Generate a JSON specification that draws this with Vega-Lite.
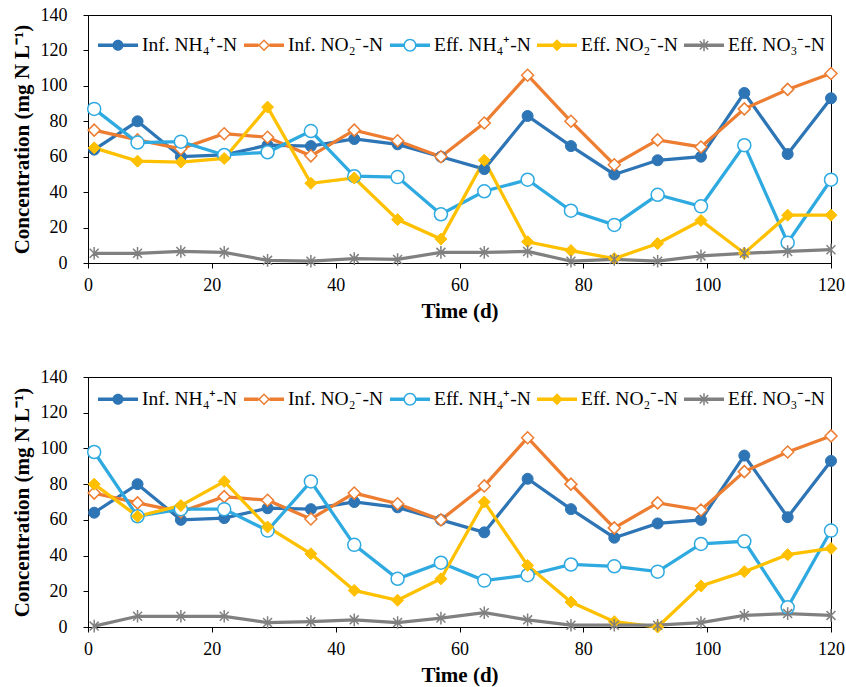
{
  "$schema": "https://vega.github.io/schema/vega-lite/v6.json",
  "padding": {"left": 10, "top": 5, "right": 10, "bottom": 5},
  "background": "white",
  "datasets": {
    "pts": [
      {"p":"A","s":"Inf. NH₄⁺-N","d":1,"v":64},{"p":"A","s":"Inf. NH₄⁺-N","d":8,"v":80},{"p":"A","s":"Inf. NH₄⁺-N","d":15,"v":60},{"p":"A","s":"Inf. NH₄⁺-N","d":22,"v":61},{"p":"A","s":"Inf. NH₄⁺-N","d":29,"v":66.5},{"p":"A","s":"Inf. NH₄⁺-N","d":36,"v":66},{"p":"A","s":"Inf. NH₄⁺-N","d":43,"v":70},{"p":"A","s":"Inf. NH₄⁺-N","d":50,"v":67},{"p":"A","s":"Inf. NH₄⁺-N","d":57,"v":60},{"p":"A","s":"Inf. NH₄⁺-N","d":64,"v":53},{"p":"A","s":"Inf. NH₄⁺-N","d":71,"v":83},{"p":"A","s":"Inf. NH₄⁺-N","d":78,"v":66},{"p":"A","s":"Inf. NH₄⁺-N","d":85,"v":50},{"p":"A","s":"Inf. NH₄⁺-N","d":92,"v":58},{"p":"A","s":"Inf. NH₄⁺-N","d":99,"v":60},{"p":"A","s":"Inf. NH₄⁺-N","d":106,"v":96},{"p":"A","s":"Inf. NH₄⁺-N","d":113,"v":61.5},{"p":"A","s":"Inf. NH₄⁺-N","d":120,"v":93},
      {"p":"A","s":"Inf. NO₂⁻-N","d":1,"v":75},{"p":"A","s":"Inf. NO₂⁻-N","d":8,"v":69.5},{"p":"A","s":"Inf. NO₂⁻-N","d":15,"v":64.5},{"p":"A","s":"Inf. NO₂⁻-N","d":22,"v":73},{"p":"A","s":"Inf. NO₂⁻-N","d":29,"v":71},{"p":"A","s":"Inf. NO₂⁻-N","d":36,"v":60.5},{"p":"A","s":"Inf. NO₂⁻-N","d":43,"v":75},{"p":"A","s":"Inf. NO₂⁻-N","d":50,"v":69},{"p":"A","s":"Inf. NO₂⁻-N","d":57,"v":60},{"p":"A","s":"Inf. NO₂⁻-N","d":64,"v":79},{"p":"A","s":"Inf. NO₂⁻-N","d":71,"v":106},{"p":"A","s":"Inf. NO₂⁻-N","d":78,"v":80},{"p":"A","s":"Inf. NO₂⁻-N","d":85,"v":55.5},{"p":"A","s":"Inf. NO₂⁻-N","d":92,"v":69.5},{"p":"A","s":"Inf. NO₂⁻-N","d":99,"v":65.5},{"p":"A","s":"Inf. NO₂⁻-N","d":106,"v":87},{"p":"A","s":"Inf. NO₂⁻-N","d":113,"v":98},{"p":"A","s":"Inf. NO₂⁻-N","d":120,"v":107},
      {"p":"A","s":"Eff. NH₄⁺-N","d":1,"v":87},{"p":"A","s":"Eff. NH₄⁺-N","d":8,"v":68},{"p":"A","s":"Eff. NH₄⁺-N","d":15,"v":68.5},{"p":"A","s":"Eff. NH₄⁺-N","d":22,"v":61},{"p":"A","s":"Eff. NH₄⁺-N","d":29,"v":62.5},{"p":"A","s":"Eff. NH₄⁺-N","d":36,"v":74.5},{"p":"A","s":"Eff. NH₄⁺-N","d":43,"v":49},{"p":"A","s":"Eff. NH₄⁺-N","d":50,"v":48.5},{"p":"A","s":"Eff. NH₄⁺-N","d":57,"v":27.5},{"p":"A","s":"Eff. NH₄⁺-N","d":64,"v":40.5},{"p":"A","s":"Eff. NH₄⁺-N","d":71,"v":47},{"p":"A","s":"Eff. NH₄⁺-N","d":78,"v":29.5},{"p":"A","s":"Eff. NH₄⁺-N","d":85,"v":21.5},{"p":"A","s":"Eff. NH₄⁺-N","d":92,"v":38.5},{"p":"A","s":"Eff. NH₄⁺-N","d":99,"v":32},{"p":"A","s":"Eff. NH₄⁺-N","d":106,"v":66.5},{"p":"A","s":"Eff. NH₄⁺-N","d":113,"v":11.5},{"p":"A","s":"Eff. NH₄⁺-N","d":120,"v":47},
      {"p":"A","s":"Eff. NO₂⁻-N","d":1,"v":65},{"p":"A","s":"Eff. NO₂⁻-N","d":8,"v":57.5},{"p":"A","s":"Eff. NO₂⁻-N","d":15,"v":57},{"p":"A","s":"Eff. NO₂⁻-N","d":22,"v":59},{"p":"A","s":"Eff. NO₂⁻-N","d":29,"v":88},{"p":"A","s":"Eff. NO₂⁻-N","d":36,"v":45},{"p":"A","s":"Eff. NO₂⁻-N","d":43,"v":48},{"p":"A","s":"Eff. NO₂⁻-N","d":50,"v":24.5},{"p":"A","s":"Eff. NO₂⁻-N","d":57,"v":13.5},{"p":"A","s":"Eff. NO₂⁻-N","d":64,"v":58},{"p":"A","s":"Eff. NO₂⁻-N","d":71,"v":12},{"p":"A","s":"Eff. NO₂⁻-N","d":78,"v":7},{"p":"A","s":"Eff. NO₂⁻-N","d":85,"v":2.5},{"p":"A","s":"Eff. NO₂⁻-N","d":92,"v":11},{"p":"A","s":"Eff. NO₂⁻-N","d":99,"v":24},{"p":"A","s":"Eff. NO₂⁻-N","d":106,"v":5.5},{"p":"A","s":"Eff. NO₂⁻-N","d":113,"v":27},{"p":"A","s":"Eff. NO₂⁻-N","d":120,"v":27},
      {"p":"A","s":"Eff. NO₃⁻-N","d":1,"v":5.5},{"p":"A","s":"Eff. NO₃⁻-N","d":8,"v":5.5},{"p":"A","s":"Eff. NO₃⁻-N","d":15,"v":6.5},{"p":"A","s":"Eff. NO₃⁻-N","d":22,"v":6},{"p":"A","s":"Eff. NO₃⁻-N","d":29,"v":1.5},{"p":"A","s":"Eff. NO₃⁻-N","d":36,"v":1},{"p":"A","s":"Eff. NO₃⁻-N","d":43,"v":2.5},{"p":"A","s":"Eff. NO₃⁻-N","d":50,"v":2},{"p":"A","s":"Eff. NO₃⁻-N","d":57,"v":6},{"p":"A","s":"Eff. NO₃⁻-N","d":64,"v":6},{"p":"A","s":"Eff. NO₃⁻-N","d":71,"v":6.5},{"p":"A","s":"Eff. NO₃⁻-N","d":78,"v":1},{"p":"A","s":"Eff. NO₃⁻-N","d":85,"v":2},{"p":"A","s":"Eff. NO₃⁻-N","d":92,"v":1},{"p":"A","s":"Eff. NO₃⁻-N","d":99,"v":4},{"p":"A","s":"Eff. NO₃⁻-N","d":106,"v":5.5},{"p":"A","s":"Eff. NO₃⁻-N","d":113,"v":6.5},{"p":"A","s":"Eff. NO₃⁻-N","d":120,"v":7.5},
      {"p":"B","s":"Inf. NH₄⁺-N","d":1,"v":64},{"p":"B","s":"Inf. NH₄⁺-N","d":8,"v":80},{"p":"B","s":"Inf. NH₄⁺-N","d":15,"v":60},{"p":"B","s":"Inf. NH₄⁺-N","d":22,"v":61},{"p":"B","s":"Inf. NH₄⁺-N","d":29,"v":66.5},{"p":"B","s":"Inf. NH₄⁺-N","d":36,"v":66},{"p":"B","s":"Inf. NH₄⁺-N","d":43,"v":70},{"p":"B","s":"Inf. NH₄⁺-N","d":50,"v":67},{"p":"B","s":"Inf. NH₄⁺-N","d":57,"v":60},{"p":"B","s":"Inf. NH₄⁺-N","d":64,"v":53},{"p":"B","s":"Inf. NH₄⁺-N","d":71,"v":83},{"p":"B","s":"Inf. NH₄⁺-N","d":78,"v":66},{"p":"B","s":"Inf. NH₄⁺-N","d":85,"v":50},{"p":"B","s":"Inf. NH₄⁺-N","d":92,"v":58},{"p":"B","s":"Inf. NH₄⁺-N","d":99,"v":60},{"p":"B","s":"Inf. NH₄⁺-N","d":106,"v":96},{"p":"B","s":"Inf. NH₄⁺-N","d":113,"v":61.5},{"p":"B","s":"Inf. NH₄⁺-N","d":120,"v":93},
      {"p":"B","s":"Inf. NO₂⁻-N","d":1,"v":75},{"p":"B","s":"Inf. NO₂⁻-N","d":8,"v":69.5},{"p":"B","s":"Inf. NO₂⁻-N","d":15,"v":64.5},{"p":"B","s":"Inf. NO₂⁻-N","d":22,"v":73},{"p":"B","s":"Inf. NO₂⁻-N","d":29,"v":71},{"p":"B","s":"Inf. NO₂⁻-N","d":36,"v":60.5},{"p":"B","s":"Inf. NO₂⁻-N","d":43,"v":75},{"p":"B","s":"Inf. NO₂⁻-N","d":50,"v":69},{"p":"B","s":"Inf. NO₂⁻-N","d":57,"v":60},{"p":"B","s":"Inf. NO₂⁻-N","d":64,"v":79},{"p":"B","s":"Inf. NO₂⁻-N","d":71,"v":106},{"p":"B","s":"Inf. NO₂⁻-N","d":78,"v":80},{"p":"B","s":"Inf. NO₂⁻-N","d":85,"v":55.5},{"p":"B","s":"Inf. NO₂⁻-N","d":92,"v":69.5},{"p":"B","s":"Inf. NO₂⁻-N","d":99,"v":65.5},{"p":"B","s":"Inf. NO₂⁻-N","d":106,"v":87},{"p":"B","s":"Inf. NO₂⁻-N","d":113,"v":98},{"p":"B","s":"Inf. NO₂⁻-N","d":120,"v":107},
      {"p":"B","s":"Eff. NH₄⁺-N","d":1,"v":98},{"p":"B","s":"Eff. NH₄⁺-N","d":8,"v":62},{"p":"B","s":"Eff. NH₄⁺-N","d":15,"v":66},{"p":"B","s":"Eff. NH₄⁺-N","d":22,"v":66},{"p":"B","s":"Eff. NH₄⁺-N","d":29,"v":54},{"p":"B","s":"Eff. NH₄⁺-N","d":36,"v":81.5},{"p":"B","s":"Eff. NH₄⁺-N","d":43,"v":46},{"p":"B","s":"Eff. NH₄⁺-N","d":50,"v":27},{"p":"B","s":"Eff. NH₄⁺-N","d":57,"v":36},{"p":"B","s":"Eff. NH₄⁺-N","d":64,"v":26},{"p":"B","s":"Eff. NH₄⁺-N","d":71,"v":29},{"p":"B","s":"Eff. NH₄⁺-N","d":78,"v":35},{"p":"B","s":"Eff. NH₄⁺-N","d":85,"v":34},{"p":"B","s":"Eff. NH₄⁺-N","d":92,"v":31},{"p":"B","s":"Eff. NH₄⁺-N","d":99,"v":46.5},{"p":"B","s":"Eff. NH₄⁺-N","d":106,"v":48},{"p":"B","s":"Eff. NH₄⁺-N","d":113,"v":11},{"p":"B","s":"Eff. NH₄⁺-N","d":120,"v":54},
      {"p":"B","s":"Eff. NO₂⁻-N","d":1,"v":80},{"p":"B","s":"Eff. NO₂⁻-N","d":8,"v":62},{"p":"B","s":"Eff. NO₂⁻-N","d":15,"v":68},{"p":"B","s":"Eff. NO₂⁻-N","d":22,"v":81.5},{"p":"B","s":"Eff. NO₂⁻-N","d":29,"v":56},{"p":"B","s":"Eff. NO₂⁻-N","d":36,"v":41},{"p":"B","s":"Eff. NO₂⁻-N","d":43,"v":20.5},{"p":"B","s":"Eff. NO₂⁻-N","d":50,"v":15},{"p":"B","s":"Eff. NO₂⁻-N","d":57,"v":27},{"p":"B","s":"Eff. NO₂⁻-N","d":64,"v":70},{"p":"B","s":"Eff. NO₂⁻-N","d":71,"v":34.5},{"p":"B","s":"Eff. NO₂⁻-N","d":78,"v":14},{"p":"B","s":"Eff. NO₂⁻-N","d":85,"v":3},{"p":"B","s":"Eff. NO₂⁻-N","d":92,"v":0},{"p":"B","s":"Eff. NO₂⁻-N","d":99,"v":23},{"p":"B","s":"Eff. NO₂⁻-N","d":106,"v":31},{"p":"B","s":"Eff. NO₂⁻-N","d":113,"v":40.5},{"p":"B","s":"Eff. NO₂⁻-N","d":120,"v":44},
      {"p":"B","s":"Eff. NO₃⁻-N","d":1,"v":0.5},{"p":"B","s":"Eff. NO₃⁻-N","d":8,"v":6},{"p":"B","s":"Eff. NO₃⁻-N","d":15,"v":6},{"p":"B","s":"Eff. NO₃⁻-N","d":22,"v":6},{"p":"B","s":"Eff. NO₃⁻-N","d":29,"v":2.5},{"p":"B","s":"Eff. NO₃⁻-N","d":36,"v":3},{"p":"B","s":"Eff. NO₃⁻-N","d":43,"v":4},{"p":"B","s":"Eff. NO₃⁻-N","d":50,"v":2.5},{"p":"B","s":"Eff. NO₃⁻-N","d":57,"v":5},{"p":"B","s":"Eff. NO₃⁻-N","d":64,"v":8},{"p":"B","s":"Eff. NO₃⁻-N","d":71,"v":4},{"p":"B","s":"Eff. NO₃⁻-N","d":78,"v":1},{"p":"B","s":"Eff. NO₃⁻-N","d":85,"v":1},{"p":"B","s":"Eff. NO₃⁻-N","d":92,"v":1},{"p":"B","s":"Eff. NO₃⁻-N","d":99,"v":2.5},{"p":"B","s":"Eff. NO₃⁻-N","d":106,"v":6.5},{"p":"B","s":"Eff. NO₃⁻-N","d":113,"v":7.5},{"p":"B","s":"Eff. NO₃⁻-N","d":120,"v":6.5}
    ]
  },
  "data": {"name": "pts"},
  "spacing": 45,
  "resolve": {"scale": {"stroke": "independent"}, "legend": {"stroke": "independent"}},
  "vconcat": [
    {
      "width": 743, "height": 248,
      "transform": [{"filter": "datum.p === 'A'"}],
      "encoding": {
        "x": {"field": "d", "type": "quantitative", "scale": {"domain": [0, 120], "nice": false}, "axis": {"title": "Time (d)", "values": [0,20,40,60,80,100,120], "labelPadding": 8, "titlePadding": 6}},
        "y": {"field": "v", "type": "quantitative", "scale": {"domain": [0, 140], "nice": false}, "axis": {"title": "Concentration (mg N L⁻¹)", "values": [0,20,40,60,80,100,120,140], "labelPadding": 16, "titlePadding": 8}}
      },
      "layer": [
        {"mark": {"type": "line", "strokeWidth": 3.25},
          "encoding": {"stroke": {"field": "s", "type": "nominal",
            "scale": {"domain": ["Inf. NH₄⁺-N","Inf. NO₂⁻-N","Eff. NH₄⁺-N","Eff. NO₂⁻-N","Eff. NO₃⁻-N"], "range": ["#2E75B6","#ED7D31","#2FAAE1","#FFC000","#808080"]},
            "legend": {"orient": "none", "legendX": 10, "legendY": 20, "direction": "horizontal", "title": null,
              "encode": {"symbols": {"update": {
                "shape": {"signal": "['M-1,-0.175H3V0.175H-1Z M1.55,0A0.55,0.55 0 1,1 0.45,0A0.55,0.55 0 1,1 1.55,0Z','M-1,-0.175H0.45V0.175H-1Z M1.55,-0.175H3V0.175H1.55Z M0.4,0L1,-0.6L1.6,0L1,0.6Z M0.61,0L1,0.39L1.39,0L1,-0.39Z','M-1,-0.175H0.4V0.175H-1Z M1.6,-0.175H3V0.175H1.6Z M1.65,0A0.65,0.65 0 1,1 0.35,0A0.65,0.65 0 1,1 1.65,0Z M1.5,0A0.5,0.5 0 1,0 0.5,0A0.5,0.5 0 1,0 1.5,0Z','M-1,-0.175H3V0.175H-1Z M0.4,0L1,-0.6L1.6,0L1,0.6Z','M-1,-0.175H3V0.175H-1Z M0.925,-0.6H1.075V0.6H0.925Z M0.629,-0.477L1.477,0.371L1.371,0.477L0.523,-0.371Z M0.523,0.371L1.371,-0.477L1.477,-0.371L0.629,0.477Z'][indexof(['Inf. NH₄⁺-N','Inf. NO₂⁻-N','Eff. NH₄⁺-N','Eff. NO₂⁻-N','Eff. NO₃⁻-N'], datum.value)]"},
                "fill": {"signal": "['#2E75B6','#ED7D31','#2FAAE1','#FFC000','#808080'][indexof(['Inf. NH₄⁺-N','Inf. NO₂⁻-N','Eff. NH₄⁺-N','Eff. NO₂⁻-N','Eff. NO₃⁻-N'], datum.value)]"},
                "fillOpacity": {"value": 1},
                "strokeWidth": {"value": 0},
                "opacity": {"value": 1},
                "size": {"value": 400}
              }}}}}}},
        {"transform": [{"filter": "datum.s === 'Inf. NH₄⁺-N'"}], "mark": {"type": "point", "shape": "circle", "size": 121, "filled": true, "fill": "#2E75B6", "stroke": "#2E75B6", "strokeWidth": 1, "opacity": 1}},
        {"transform": [{"filter": "datum.s === 'Inf. NO₂⁻-N'"}], "mark": {"type": "point", "shape": "diamond", "size": 144, "filled": true, "fill": "#ffffff", "stroke": "#ED7D31", "strokeWidth": 1.5, "opacity": 1}},
        {"transform": [{"filter": "datum.s === 'Eff. NH₄⁺-N'"}], "mark": {"type": "point", "shape": "circle", "size": 169, "filled": true, "fill": "#ffffff", "stroke": "#2FAAE1", "strokeWidth": 1.5, "opacity": 1}},
        {"transform": [{"filter": "datum.s === 'Eff. NO₂⁻-N'"}], "mark": {"type": "point", "shape": "diamond", "size": 144, "filled": true, "fill": "#FFC000", "stroke": "#FFC000", "strokeWidth": 1, "opacity": 1}},
        {"transform": [{"filter": "datum.s === 'Eff. NO₃⁻-N'"}], "mark": {"type": "point", "shape": "M0,-1V1M-0.707,-0.707L0.707,0.707M-0.707,0.707L0.707,-0.707", "size": 160, "filled": false, "stroke": "#808080", "strokeWidth": 1.5, "opacity": 1}}
      ]
    },
    {
      "width": 743, "height": 250,
      "transform": [{"filter": "datum.p === 'B'"}],
      "encoding": {
        "x": {"field": "d", "type": "quantitative", "scale": {"domain": [0, 120], "nice": false}, "axis": {"title": "Time (d)", "values": [0,20,40,60,80,100,120], "labelPadding": 8, "titlePadding": 6}},
        "y": {"field": "v", "type": "quantitative", "scale": {"domain": [0, 140], "nice": false}, "axis": {"title": "Concentration (mg N L⁻¹)", "values": [0,20,40,60,80,100,120,140], "labelPadding": 16, "titlePadding": 8}}
      },
      "layer": [
        {"mark": {"type": "line", "strokeWidth": 3.25},
          "encoding": {"stroke": {"field": "s", "type": "nominal",
            "scale": {"domain": ["Inf. NH₄⁺-N","Inf. NO₂⁻-N","Eff. NH₄⁺-N","Eff. NO₂⁻-N","Eff. NO₃⁻-N"], "range": ["#2E75B6","#ED7D31","#2FAAE1","#FFC000","#808080"]},
            "legend": {"orient": "none", "legendX": 10, "legendY": 12, "direction": "horizontal", "title": null,
              "encode": {"symbols": {"update": {
                "shape": {"signal": "['M-1,-0.175H3V0.175H-1Z M1.55,0A0.55,0.55 0 1,1 0.45,0A0.55,0.55 0 1,1 1.55,0Z','M-1,-0.175H0.45V0.175H-1Z M1.55,-0.175H3V0.175H1.55Z M0.4,0L1,-0.6L1.6,0L1,0.6Z M0.61,0L1,0.39L1.39,0L1,-0.39Z','M-1,-0.175H0.4V0.175H-1Z M1.6,-0.175H3V0.175H1.6Z M1.65,0A0.65,0.65 0 1,1 0.35,0A0.65,0.65 0 1,1 1.65,0Z M1.5,0A0.5,0.5 0 1,0 0.5,0A0.5,0.5 0 1,0 1.5,0Z','M-1,-0.175H3V0.175H-1Z M0.4,0L1,-0.6L1.6,0L1,0.6Z','M-1,-0.175H3V0.175H-1Z M0.925,-0.6H1.075V0.6H0.925Z M0.629,-0.477L1.477,0.371L1.371,0.477L0.523,-0.371Z M0.523,0.371L1.371,-0.477L1.477,-0.371L0.629,0.477Z'][indexof(['Inf. NH₄⁺-N','Inf. NO₂⁻-N','Eff. NH₄⁺-N','Eff. NO₂⁻-N','Eff. NO₃⁻-N'], datum.value)]"},
                "fill": {"signal": "['#2E75B6','#ED7D31','#2FAAE1','#FFC000','#808080'][indexof(['Inf. NH₄⁺-N','Inf. NO₂⁻-N','Eff. NH₄⁺-N','Eff. NO₂⁻-N','Eff. NO₃⁻-N'], datum.value)]"},
                "fillOpacity": {"value": 1},
                "strokeWidth": {"value": 0},
                "opacity": {"value": 1},
                "size": {"value": 400}
              }}}}}}},
        {"transform": [{"filter": "datum.s === 'Inf. NH₄⁺-N'"}], "mark": {"type": "point", "shape": "circle", "size": 121, "filled": true, "fill": "#2E75B6", "stroke": "#2E75B6", "strokeWidth": 1, "opacity": 1}},
        {"transform": [{"filter": "datum.s === 'Inf. NO₂⁻-N'"}], "mark": {"type": "point", "shape": "diamond", "size": 144, "filled": true, "fill": "#ffffff", "stroke": "#ED7D31", "strokeWidth": 1.5, "opacity": 1}},
        {"transform": [{"filter": "datum.s === 'Eff. NH₄⁺-N'"}], "mark": {"type": "point", "shape": "circle", "size": 169, "filled": true, "fill": "#ffffff", "stroke": "#2FAAE1", "strokeWidth": 1.5, "opacity": 1}},
        {"transform": [{"filter": "datum.s === 'Eff. NO₂⁻-N'"}], "mark": {"type": "point", "shape": "diamond", "size": 144, "filled": true, "fill": "#FFC000", "stroke": "#FFC000", "strokeWidth": 1, "opacity": 1}},
        {"transform": [{"filter": "datum.s === 'Eff. NO₃⁻-N'"}], "mark": {"type": "point", "shape": "M0,-1V1M-0.707,-0.707L0.707,0.707M-0.707,0.707L0.707,-0.707", "size": 160, "filled": false, "stroke": "#808080", "strokeWidth": 1.5, "opacity": 1}}
      ]
    }
  ],
  "config": {
    "font": "Liberation Serif",
    "view": {"stroke": "#000", "strokeWidth": 1},
    "axis": {"grid": false, "domainColor": "#000", "tickColor": "#000", "tickSize": 5, "labelColor": "#000", "titleColor": "#000", "labelFont": "Liberation Serif", "titleFont": "Liberation Serif", "labelFontSize": 18, "titleFontSize": 21, "titleFontWeight": "bold", "labelFlush": false, "labelOverlap": false},
    "legend": {"labelFont": "Liberation Serif", "labelFontSize": 19.5, "labelColor": "#000", "symbolSize": 400, "symbolStrokeWidth": 0, "labelOffset": 24, "columnPadding": 6, "padding": 0, "labelLimit": 300}
  }
}
